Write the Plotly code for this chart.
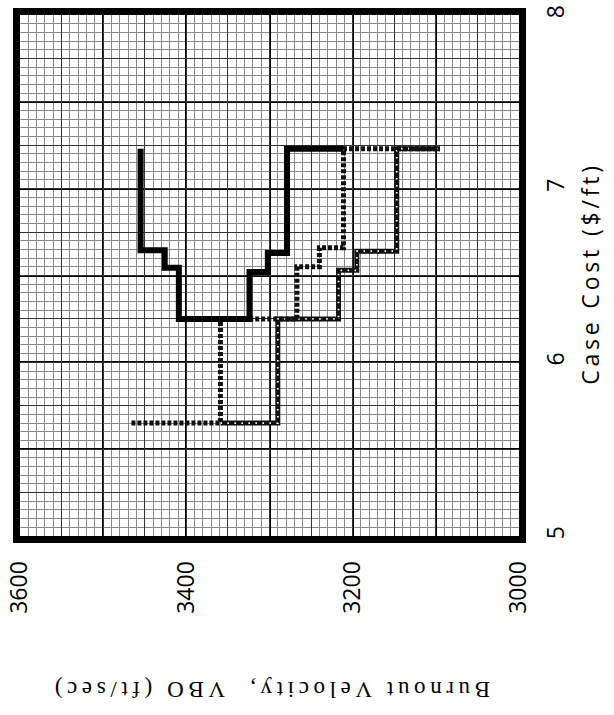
import plotly.graph_objects as go

# Corner points of each step curve: burnout velocity (ft/sec) vs case cost ($/ft)
solid_vbo = [3455, 3426, 3409, 3324, 3302, 3279, 3211]
solid_cost = [7.23, 6.645, 6.545, 6.25, 6.52, 6.63, 7.23]

dotted_vbo = [3466, 3359, 3267, 3240, 3211, 3095]
dotted_cost = [5.65, 6.25, 6.55, 6.66, 7.23, 7.23]

hatched_vbo = [3359, 3290, 3217, 3195, 3147, 3095]
hatched_cost = [5.65, 6.25, 6.53, 6.64, 7.23, 7.23]

vbo_labels = [3600, 3400, 3200, 3000]
cost_labels = [5, 6, 7, 8]

VBO_RANGE = [3600, 3000]
COST_RANGE = [5, 8]


def spaced(text, sep="\u2009"):
    return sep.join(text)


fig = go.Figure()

# hatched curve: heavy black stroke broken by short white marks
fig.add_trace(go.Scatter(x=hatched_vbo, y=hatched_cost, mode="lines",
                         line=dict(shape="hv", color="#111", width=5),
                         hoverinfo="skip", showlegend=False))
fig.add_trace(go.Scatter(x=hatched_vbo, y=hatched_cost, mode="lines",
                         line=dict(shape="hv", color="white", width=1.8,
                                   dash="1.5px,5.5px"),
                         hoverinfo="skip", showlegend=False))
# dotted curve
fig.add_trace(go.Scatter(x=dotted_vbo, y=dotted_cost, mode="lines",
                         line=dict(shape="hv", color="#111", width=5,
                                   dash="4px,2px"),
                         hoverinfo="skip", showlegend=False))
# solid curve
fig.add_trace(go.Scatter(x=solid_vbo, y=solid_cost, mode="lines",
                         line=dict(shape="vh", color="black", width=6),
                         hoverinfo="skip", showlegend=False))
# empty trace that anchors the medium-weight grid axes
fig.add_trace(go.Scatter(x=[None], y=[None], xaxis="x2", yaxis="y2",
                         showlegend=False, hoverinfo="skip"))

major_v = list(range(3000, 3601, 100))
major_c = [5 + 0.5 * i for i in range(7)]

tick_font = dict(family="Open Sans", size=23, color="black")

fig.update_layout(
    template="none",
    width=614, height=715,
    margin=dict(l=20, r=95, t=15, b=179),
    paper_bgcolor="white", plot_bgcolor="white",
    xaxis=dict(
        range=VBO_RANGE, tickmode="array", tickvals=major_v,
        ticktext=[str(v) if v in vbo_labels else "" for v in major_v],
        tickangle=-90, tickfont=tick_font, ticklabeloverflow="allow",
        ticks="outside", ticklen=9, tickcolor="rgba(0,0,0,0)",
        showgrid=True, gridcolor="black", gridwidth=2,
        minor=dict(tickmode="linear", tick0=3000, dtick=10, showgrid=True,
                   gridcolor="#8a8a8a", gridwidth=1, ticks=""),
        showline=True, linecolor="black", linewidth=7, mirror=True,
        zeroline=False, fixedrange=True, automargin=False,
    ),
    yaxis=dict(
        range=COST_RANGE, side="right", tickmode="array", tickvals=major_c,
        ticktext=[str(int(c)) if c in cost_labels else "" for c in major_c],
        tickangle=-90, tickfont=tick_font, ticklabeloverflow="allow",
        ticks="outside", ticklen=10, tickcolor="rgba(0,0,0,0)",
        showgrid=True, gridcolor="black", gridwidth=2,
        minor=dict(tickmode="linear", tick0=5, dtick=0.05, showgrid=True,
                   gridcolor="#8a8a8a", gridwidth=1, ticks=""),
        showline=True, linecolor="black", linewidth=7, mirror=True,
        zeroline=False, fixedrange=True, automargin=False,
    ),
    xaxis2=dict(
        range=VBO_RANGE, overlaying="x", anchor="y2", tickmode="linear",
        tick0=3000, dtick=50, showgrid=True, gridcolor="#333",
        gridwidth=1.2, showticklabels=False, ticks="", zeroline=False,
        showline=False, fixedrange=True, automargin=False,
    ),
    yaxis2=dict(
        range=COST_RANGE, overlaying="y", anchor="x2", tickmode="linear",
        tick0=5, dtick=0.25, showgrid=True, gridcolor="#333",
        gridwidth=1.2, showticklabels=False, ticks="", zeroline=False,
        showline=False, fixedrange=True, automargin=False,
    ),
    annotations=[
        dict(text=spaced("Case Cost ($/ft)"), xref="paper", yref="paper",
             x=1.142, y=0.501, xanchor="center", yanchor="middle",
             textangle=-90, showarrow=False,
             font=dict(family="Open Sans", size=23, color="black")),
        dict(text=spaced("Burnout Velocity,  VBO (ft/sec)"),
             xref="paper", yref="paper", x=0.505, y=-0.296,
             xanchor="center", yanchor="middle", textangle=180,
             showarrow=False,
             font=dict(family="Liberation Serif", size=23, color="black")),
    ],
)

fig.write_html("out.html")
